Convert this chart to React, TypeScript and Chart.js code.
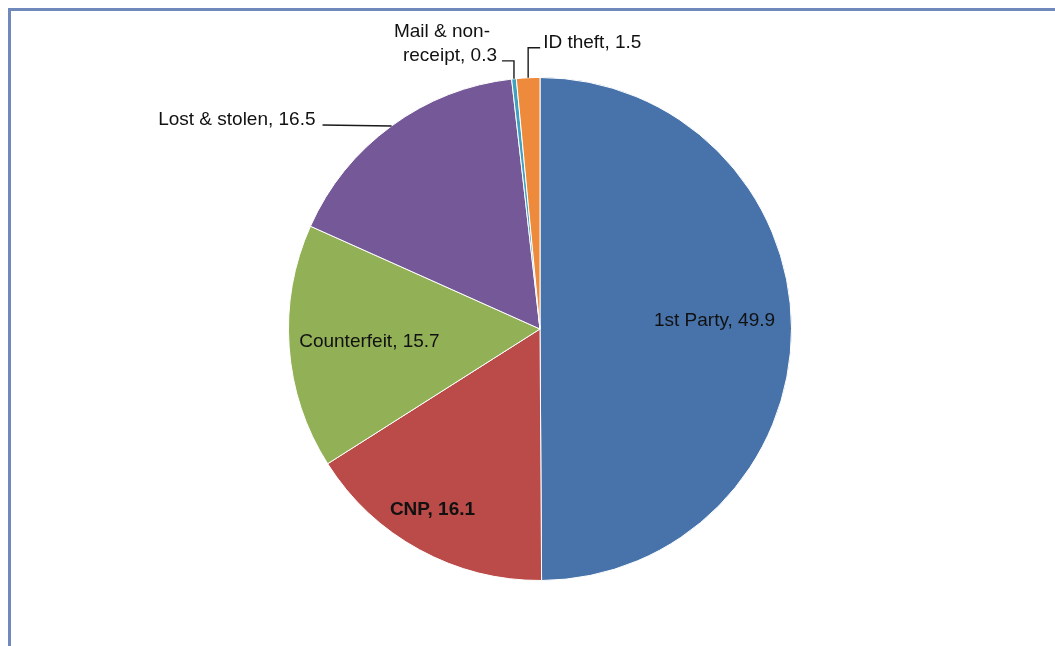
import React, { useEffect, useRef } from "react";
import { Chart, registerables } from "chart.js";

Chart.register(...registerables);

const categories = ["1st Party", "CNP", "Counterfeit", "Lost & stolen", "Mail & non-receipt", "ID theft"];
const values = [49.9, 16.1, 15.7, 16.5, 0.3, 1.5];
const colors = ["#4773AA", "#BA4B48", "#92B055", "#745897", "#40A0C0", "#EE8A3B"];

const FONT = '"Liberation Sans", Arial, sans-serif';
const FONT_SIZE = 19;

type Placement =
  | { kind: "inside"; f: number; dx: number; dy: number; bold?: boolean }
  | { kind: "left"; len: number; gap: number }
  | { kind: "upLeft"; up: number; len: number; lineRights: number[]; lineDy: number[] }
  | { kind: "upRight"; up: number; len: number; gap: number };

const placements: Placement[] = [
  { kind: "inside", f: 0.694, dx: 0, dy: -2 },
  { kind: "inside", f: 0.826, dx: -8, dy: 3.5, bold: true },
  { kind: "inside", f: 0.68, dx: 0, dy: 6 },
  { kind: "left", len: 69, gap: 7 },
  { kind: "upLeft", up: 18, len: 12, lineRights: [-24, -17], lineDy: [-42, -18] },
  { kind: "upRight", up: 30, len: 12, gap: 3 },
];

function labelLines(i: number): string[] {
  const text = `${categories[i]}, ${values[i].toFixed(1)}`;
  return text.split(/(?<=non-)/);
}

const labelPlugin = {
  id: "sliceLabels",
  afterDatasetsDraw(chart: any) {
    const ctx: CanvasRenderingContext2D = chart.ctx;
    const meta = chart.getDatasetMeta(0);
    ctx.save();
    ctx.fillStyle = "#111111";
    ctx.strokeStyle = "#1a1a1a";
    ctx.lineWidth = 1.4;
    ctx.textBaseline = "alphabetic";
    meta.data.forEach((arc: any, i: number) => {
      const p = placements[i];
      const mid = (arc.startAngle + arc.endAngle) / 2;
      const R = arc.outerRadius;
      const cx = arc.x;
      const cy = arc.y;
      const lines = labelLines(i);
      if (p.kind === "inside") {
        ctx.font = `${p.bold ? "bold " : ""}${FONT_SIZE}px ${FONT}`;
        ctx.textAlign = "center";
        const x = cx + Math.cos(mid) * R * p.f + p.dx;
        const y = cy + Math.sin(mid) * R * p.f + p.dy;
        ctx.fillText(lines[0], x, y);
        return;
      }
      ctx.font = `${FONT_SIZE}px ${FONT}`;
      const px = cx + Math.cos(mid) * R;
      const py = cy + Math.sin(mid) * R;
      if (p.kind === "left") {
        ctx.beginPath();
        ctx.moveTo(px, py);
        ctx.lineTo(px - p.len, py - 1);
        ctx.stroke();
        ctx.textAlign = "right";
        ctx.fillText(lines[0], px - p.len - p.gap, py - 1);
      } else if (p.kind === "upLeft") {
        ctx.beginPath();
        ctx.moveTo(px, py);
        ctx.lineTo(px, py - p.up);
        ctx.lineTo(px - p.len, py - p.up);
        ctx.stroke();
        ctx.textAlign = "right";
        lines.forEach((ln, k) => {
          ctx.fillText(ln, px + p.lineRights[k], py + p.lineDy[k]);
        });
      } else if (p.kind === "upRight") {
        ctx.beginPath();
        ctx.moveTo(px, py);
        ctx.lineTo(px, py - p.up);
        ctx.lineTo(px + p.len, py - p.up);
        ctx.stroke();
        ctx.textAlign = "left";
        ctx.fillText(lines[0], px + p.len + p.gap, py - p.up);
      }
    });
    ctx.restore();
  },
};

export default function App() {
  const canvasRef = useRef<HTMLCanvasElement | null>(null);

  useEffect(() => {
    if (!canvasRef.current) return;
    const chart = new Chart(canvasRef.current, {
      type: "pie",
      data: {
        labels: categories,
        datasets: [
          {
            data: values,
            backgroundColor: colors,
            borderColor: "#ffffff",
            borderWidth: 1,
          },
        ],
      },
      options: {
        responsive: false,
        animation: false,
        layout: { padding: { top: 77, bottom: 65, left: 288, right: 263 } },
        plugins: {
          legend: { display: false },
          tooltip: { enabled: false },
        },
      },
      plugins: [labelPlugin],
    });
    return () => chart.destroy();
  }, []);

  return (
    <div style={{ position: "fixed", left: 0, top: 0, width: 1055, height: 646, background: "#ffffff", overflow: "hidden" }}>
      <div
        style={{
          position: "absolute",
          left: 8,
          top: 8,
          width: 1100,
          height: 700,
          borderLeft: "3px solid #6f89bd",
          borderTop: "3px solid #6f89bd",
        }}
      />
      <canvas
        ref={canvasRef}
        width={1055}
        height={646}
        style={{ position: "absolute", left: 0, top: 0, width: 1055, height: 646 }}
      />
    </div>
  );
}
